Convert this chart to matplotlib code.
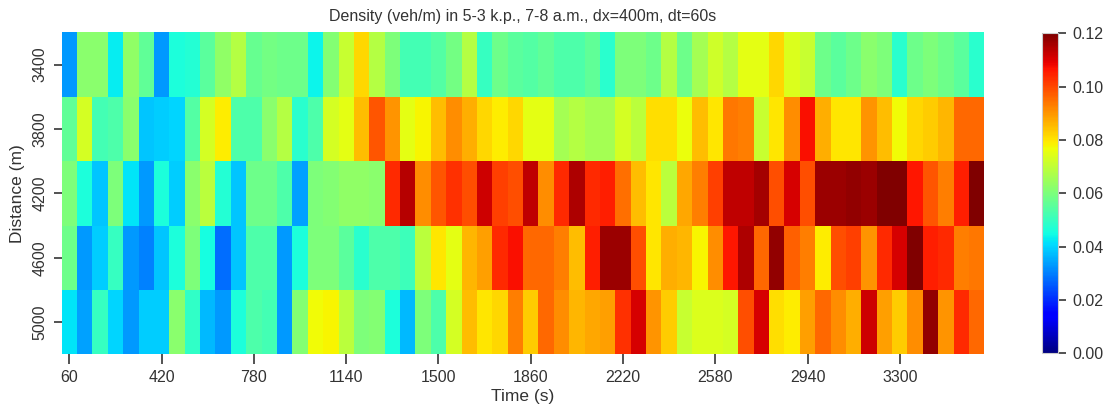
import numpy as np
import matplotlib
matplotlib.use("Agg")
import matplotlib.pyplot as plt

plt.rcParams['font.family'] = ['Liberation Sans', 'DejaVu Sans']

distances = [3400, 3800, 4200, 4600, 5000]
times = list(range(60, 3601, 60))

row_3400 = [0.033, 0.062, 0.062, 0.043, 0.063, 0.056, 0.033, 0.046, 0.047, 0.055,
            0.063, 0.068, 0.057, 0.059, 0.058, 0.058, 0.044, 0.061, 0.071, 0.082,
            0.068, 0.060, 0.052, 0.052, 0.054, 0.059, 0.068, 0.050, 0.058, 0.055,
            0.054, 0.056, 0.053, 0.053, 0.056, 0.048, 0.060, 0.060, 0.058, 0.068,
            0.058, 0.066, 0.072, 0.068, 0.075, 0.075, 0.082, 0.074, 0.071, 0.058,
            0.055, 0.058, 0.062, 0.060, 0.048, 0.058, 0.060, 0.058, 0.055, 0.048]
row_3800 = [0.056, 0.073, 0.052, 0.053, 0.062, 0.038, 0.039, 0.040, 0.054, 0.073,
            0.079, 0.053, 0.053, 0.062, 0.068, 0.048, 0.053, 0.073, 0.075, 0.085,
            0.098, 0.090, 0.075, 0.078, 0.085, 0.091, 0.087, 0.082, 0.079, 0.082,
            0.075, 0.075, 0.066, 0.068, 0.066, 0.066, 0.073, 0.069, 0.081, 0.081,
            0.076, 0.085, 0.080, 0.094, 0.093, 0.071, 0.080, 0.091, 0.107, 0.087,
            0.080, 0.080, 0.090, 0.085, 0.077, 0.082, 0.083, 0.086, 0.096, 0.096]
row_4200 = [0.060, 0.046, 0.038, 0.060, 0.042, 0.033, 0.046, 0.039, 0.062, 0.069,
            0.047, 0.038, 0.058, 0.058, 0.053, 0.034, 0.060, 0.061, 0.063, 0.063,
            0.062, 0.104, 0.114, 0.091, 0.098, 0.103, 0.099, 0.112, 0.101, 0.099,
            0.113, 0.091, 0.104, 0.115, 0.104, 0.105, 0.095, 0.085, 0.080, 0.069,
            0.088, 0.093, 0.101, 0.113, 0.113, 0.116, 0.099, 0.111, 0.099, 0.117,
            0.117, 0.118, 0.117, 0.120, 0.120, 0.106, 0.098, 0.093, 0.105, 0.120]
row_4600 = [0.058, 0.033, 0.039, 0.050, 0.033, 0.030, 0.038, 0.046, 0.060, 0.045,
            0.028, 0.038, 0.053, 0.053, 0.033, 0.046, 0.060, 0.060, 0.055, 0.048,
            0.053, 0.053, 0.051, 0.069, 0.080, 0.075, 0.086, 0.089, 0.104, 0.107,
            0.096, 0.096, 0.093, 0.085, 0.105, 0.117, 0.117, 0.099, 0.080, 0.087,
            0.086, 0.078, 0.091, 0.106, 0.115, 0.096, 0.118, 0.097, 0.093, 0.079,
            0.099, 0.101, 0.090, 0.104, 0.111, 0.120, 0.105, 0.104, 0.093, 0.094]
row_5000 = [0.042, 0.034, 0.050, 0.040, 0.033, 0.039, 0.039, 0.062, 0.049, 0.037,
            0.033, 0.046, 0.053, 0.052, 0.033, 0.061, 0.077, 0.078, 0.069, 0.060,
            0.061, 0.046, 0.037, 0.060, 0.053, 0.073, 0.085, 0.080, 0.082, 0.093,
            0.083, 0.096, 0.091, 0.086, 0.088, 0.089, 0.103, 0.111, 0.090, 0.083,
            0.071, 0.074, 0.074, 0.073, 0.099, 0.111, 0.081, 0.079, 0.089, 0.096,
            0.091, 0.087, 0.112, 0.089, 0.083, 0.091, 0.118, 0.090, 0.104, 0.096]

density = np.array([row_3400, row_3800, row_4200, row_4600, row_5000])

fig = plt.figure(figsize=(11.1, 4.07), dpi=100)
ax = fig.add_axes([0.0556, 0.1295, 0.8312, 0.7911])
cax = fig.add_axes([0.939, 0.132, 0.0144, 0.786])

n_rows, n_cols = density.shape
mesh = ax.pcolormesh(np.arange(n_cols + 1), np.arange(n_rows + 1), density,
                     cmap='jet', vmin=0, vmax=0.12, shading='flat')
ax.set_xlim(0, n_cols)
ax.set_ylim(n_rows, 0)

xt = np.arange(0, n_cols, 6)
ax.set_xticks(xt + 0.5)
ax.set_xticklabels([str(times[i]) for i in xt], fontsize=11.5, color='#333333')
ax.set_yticks(np.arange(n_rows) + 0.5)
ax.set_yticklabels([str(d) for d in distances], fontsize=11.5, color='#333333',
                   rotation=90, va='center')
for s in ax.spines.values():
    s.set_visible(False)
ax.tick_params(axis='x', length=7.5, width=1.3, color='#444444', pad=4)
ax.tick_params(axis='y', length=5.5, width=1.3, color='#444444', pad=5)

ax.set_xlabel('Time (s)', fontsize=12.5, color='#333333', labelpad=3)
ax.set_ylabel('Distance (m)', fontsize=12.5, color='#333333', labelpad=5)
ax.set_title('Density (veh/m) in 5-3 k.p., 7-8 a.m., dx=400m, dt=60s',
             fontsize=11.5, color='#333333', pad=8)

cb = fig.colorbar(mesh, cax=cax)
cb.set_ticks([0.0, 0.02, 0.04, 0.06, 0.08, 0.10, 0.12])
cb.set_ticklabels(['0.00', '0.02', '0.04', '0.06', '0.08', '0.10', '0.12'])
cb.ax.tick_params(labelsize=11.5, length=6, width=1.3, color='#444444',
                  labelcolor='#333333', pad=4)
cb.outline.set_edgecolor('#cccccc')
cb.outline.set_linewidth(0.8)

fig.savefig('out.png', dpi=100)
